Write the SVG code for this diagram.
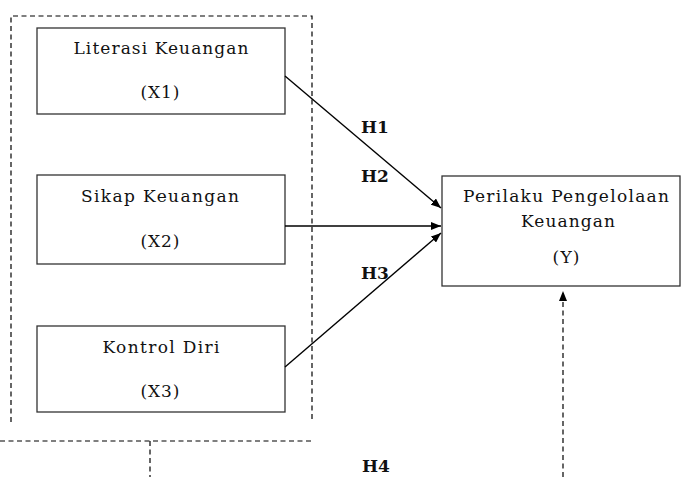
<svg xmlns="http://www.w3.org/2000/svg" width="681" height="477" viewBox="0 0 681 477">
<style>
.box{fill:#fff;stroke:#333;stroke-width:1.3}
.t{font-family:"DejaVu Serif","Liberation Serif",serif;font-size:17px;fill:#111;text-anchor:middle}
.h{font-family:"DejaVu Serif","Liberation Serif",serif;font-size:17px;font-weight:bold;fill:#111}
.ln{stroke:#000;stroke-width:1.4;fill:none}
.dash{stroke:#000;stroke-width:1.2;fill:none;stroke-dasharray:5,3.5}
</style>
<defs>
<marker id="ah" viewBox="0 0 10 8" refX="10" refY="4" markerWidth="10" markerHeight="8" markerUnits="userSpaceOnUse" orient="auto">
<path d="M0,0 L10,4 L0,8 Z" fill="#000"/>
</marker>
</defs>
<rect width="681" height="477" fill="#fff"/>
<g id="group-border">
<path class="dash" d="M11,422 V16 H312 V422"/>
<path class="dash" d="M0,441 H312"/>
<path class="dash" d="M150,441 V477"/>
</g>
<g id="x1">
<rect class="box" x="37" y="28" width="248" height="86"/>
<text class="t" x="161" y="54" textLength="175" lengthAdjust="spacing">Literasi Keuangan</text>
<text class="t" x="160" y="98" textLength="39" lengthAdjust="spacing">(X1)</text>
</g>
<g id="x2">
<rect class="box" x="37" y="175" width="248" height="89"/>
<text class="t" x="160" y="202" textLength="158" lengthAdjust="spacing">Sikap Keuangan</text>
<text class="t" x="160" y="247" textLength="39" lengthAdjust="spacing">(X2)</text>
</g>
<g id="x3">
<rect class="box" x="37" y="326" width="248" height="86"/>
<text class="t" x="161" y="353" textLength="117" lengthAdjust="spacing">Kontrol Diri</text>
<text class="t" x="160" y="397" textLength="39" lengthAdjust="spacing">(X3)</text>
</g>
<g id="y">
<rect class="box" x="442" y="176" width="238" height="110"/>
<text class="t" x="566" y="202" textLength="206" lengthAdjust="spacing">Perilaku Pengelolaan</text>
<text class="t" x="568" y="227" textLength="94" lengthAdjust="spacing">Keuangan</text>
<text class="t" x="566" y="263" textLength="27" lengthAdjust="spacing">(Y)</text>
</g>
<g id="connectors">
<line class="ln" x1="285" y1="76" x2="441" y2="208" marker-end="url(#ah)"/>
<line class="ln" x1="285" y1="226" x2="441" y2="226" marker-end="url(#ah)"/>
<line class="ln" x1="285" y1="367" x2="441" y2="233" marker-end="url(#ah)"/>
<line class="dash" x1="563" y1="477" x2="563" y2="291" marker-end="url(#ah)"/>
</g>
<g id="labels">
<text class="h" x="361" y="133">H1</text>
<text class="h" x="361" y="182">H2</text>
<text class="h" x="361" y="279">H3</text>
<text class="h" x="362" y="472">H4</text>
</g>
</svg>
